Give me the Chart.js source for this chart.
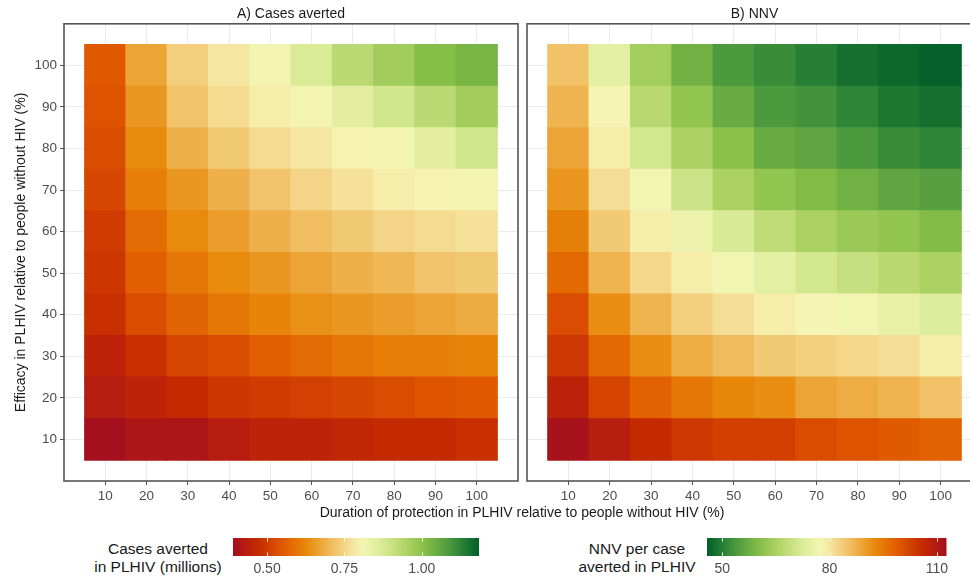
<!DOCTYPE html>
<html>
<head>
<meta charset="utf-8">
<script src="https://cdn.jsdelivr.net/npm/chart.js@4.4.1/dist/chart.umd.min.js"></script>
<style>
  html, body { margin: 0; padding: 0; background: #fff; overflow: hidden; }
  #wrap { position: relative; width: 970px; height: 580px; overflow: hidden; font-family: 'Liberation Sans', Arial, sans-serif; color: #1a1a1a; }
  canvas { position: absolute; }
  .txt { position: absolute; text-align: center; white-space: nowrap; }
</style>
</head>
<body>
<div id="wrap">
  <canvas id="chartA" width="521" height="510" style="left:0;top:0"></canvas>
  <canvas id="chartB" width="470" height="510" style="left:520px;top:0"></canvas>
  <div class="txt" style="left:222px;width:600px;top:504px;font-size:14px;line-height:17px">Duration of protection in PLHIV relative to people without HIV (%)</div>
  <div class="txt" style="left:58px;width:200px;top:540px;font-size:15.5px;line-height:18px">Cases averted<br>in PLHIV (millions)</div>
  <canvas id="barA" width="246" height="42" style="left:233px;top:538px"></canvas>
  <div class="txt" style="left:537px;width:200px;top:540px;font-size:15.5px;line-height:18px">NNV per case<br>averted in PLHIV</div>
  <canvas id="barB" width="246" height="42" style="left:707px;top:538px"></canvas>
</div>
<script>
// axes: duration of protection (x) and efficacy (y), both in %
const duration = [10, 20, 30, 40, 50, 60, 70, 80, 90, 100];
const efficacy = [10, 20, 30, 40, 50, 60, 70, 80, 90, 100];
const axisTicks = [10, 20, 30, 40, 50, 60, 70, 80, 90, 100];

// cases averted in PLHIV (millions), one row per efficacy (10 -> 100)
const casesAverted = [
  [0.39, 0.41, 0.41, 0.43, 0.45, 0.45, 0.46, 0.47, 0.47, 0.48],
  [0.43, 0.45, 0.47, 0.49, 0.50, 0.51, 0.52, 0.53, 0.54, 0.55],
  [0.45, 0.48, 0.52, 0.53, 0.56, 0.58, 0.60, 0.61, 0.61, 0.62],
  [0.48, 0.53, 0.57, 0.60, 0.62, 0.64, 0.65, 0.66, 0.67, 0.68],
  [0.49, 0.56, 0.60, 0.63, 0.65, 0.67, 0.69, 0.70, 0.72, 0.73],
  [0.50, 0.58, 0.63, 0.66, 0.69, 0.71, 0.73, 0.75, 0.76, 0.77],
  [0.52, 0.61, 0.65, 0.69, 0.72, 0.75, 0.77, 0.79, 0.80, 0.81],
  [0.53, 0.63, 0.69, 0.73, 0.76, 0.78, 0.80, 0.81, 0.85, 0.89],
  [0.54, 0.65, 0.72, 0.76, 0.79, 0.81, 0.85, 0.89, 0.93, 0.97],
  [0.55, 0.67, 0.74, 0.78, 0.81, 0.87, 0.93, 0.97, 1.01, 1.03]
];

// NNV per case averted in PLHIV, one row per efficacy (10 -> 100)
const nnv = [
  [112, 109, 106, 104, 103, 103, 101, 100, 99, 98],
  [108, 102, 98, 95, 93, 92, 89, 88, 87, 85],
  [104, 97, 92, 88, 86, 84, 83, 82, 81, 79],
  [101, 92, 87, 83, 81, 79, 78, 77, 75, 73],
  [97, 87, 82, 79, 77, 74, 71, 69, 67, 65],
  [94, 84, 79, 76, 72, 68, 65, 63, 62, 60],
  [91, 81, 77, 70, 65, 62, 60, 58, 56, 55],
  [89, 79, 71, 65, 61, 57, 56, 54, 52, 51],
  [87, 78, 67, 62, 57, 54, 53, 51, 49, 48],
  [85, 74, 64, 58, 54, 52, 50, 48, 47, 46]
];

// colour scale limits and legend ticks
const casesLimits = [0.39, 1.185];
const casesLegendTicks = [0.50, 0.75, 1.00];
const nnvLimits = [45.7, 112.7];
const nnvLegendTicks = [50, 80, 110];

// red -> yellow -> green ramp (t = 0 red, t = 1 green)
const palette = [
  [0.00, '#a50f1e'], [0.10, '#c42a02'], [0.20, '#e05800'], [0.30, '#e8890a'],
  [0.40, '#f0bc5e'], [0.46, '#f4d88c'], [0.52, '#f6f5b5'], [0.60, '#dcec9a'],
  [0.70, '#b2d468'], [0.78, '#86bf48'], [0.86, '#58a040'], [0.93, '#2a8236'],
  [1.00, '#005f28']
];

function hexRgb(h) {
  return [1, 3, 5].map(i => parseInt(h.slice(i, i + 2), 16));
}

function rampColor(t) {
  t = Math.max(0, Math.min(1, t));
  for (let i = 1; i < palette.length; i++) {
    if (t <= palette[i][0]) {
      const [t0, c0] = palette[i - 1];
      const [t1, c1] = palette[i];
      const f = (t - t0) / (t1 - t0);
      const a = hexRgb(c0), b = hexRgb(c1);
      const rgb = a.map((v, k) => Math.round(v + (b[k] - v) * f));
      return `rgb(${rgb[0]},${rgb[1]},${rgb[2]})`;
    }
  }
  return palette[palette.length - 1][1];
}

// low cases averted = red; low NNV = green
const casesColor = v => rampColor((v - casesLimits[0]) / (casesLimits[1] - casesLimits[0]));
const nnvColor = v => rampColor((nnvLimits[1] - v) / (nnvLimits[1] - nnvLimits[0]));

const fontFamily = "'Liberation Sans', Arial, sans-serif";
Chart.defaults.font.family = fontFamily;
Chart.defaults.color = '#4d4d4d';

const panelBorder = {
  id: 'panelBorder',
  afterDraw(chart) {
    const { ctx, chartArea: a } = chart;
    ctx.save();
    ctx.strokeStyle = '#555';
    ctx.lineWidth = 1.6;
    ctx.strokeRect(a.left, a.top, a.right - a.left, a.bottom - a.top);
    ctx.restore();
  }
};

function heatDatasets(matrix, colorFn) {
  return efficacy.map((e, i) => ({
    label: 'Efficacy ' + e,
    stack: 'cells',
    data: duration.map(d => ({ x: d, y: [e - 5, e + 5] })),
    backgroundColor: matrix[i].map(colorFn),
    borderWidth: 0,
    inflateAmount: 0.5,
    categoryPercentage: 1,
    barPercentage: 1
  }));
}

function heatmap(canvasId, title, matrix, colorFn, showY, yWidth, padRight) {
  return new Chart(document.getElementById(canvasId), {
    type: 'bar',
    data: { datasets: heatDatasets(matrix, colorFn) },
    plugins: [panelBorder],
    options: {
      responsive: false,
      animation: false,
      events: [],
      devicePixelRatio: 1,
      layout: { padding: { left: 0, right: padRight, top: 0, bottom: 0 } },
      plugins: {
        legend: { display: false },
        tooltip: { enabled: false },
        title: {
          display: true,
          text: title,
          fullSize: false,
          color: '#1a1a1a',
          font: { size: 14, weight: 'normal' },
          padding: { top: 6, bottom: 1 }
        }
      },
      scales: {
        x: {
          type: 'linear',
          stacked: true,
          offset: false,
          min: 0,
          max: 110,
          afterBuildTicks: axis => { axis.ticks = axisTicks.map(v => ({ value: v })); },
          afterFit: axis => { axis.height = 29; },
          grid: { offset: false, color: '#ebebeb', lineWidth: 1, tickColor: '#555', tickLength: 4 },
          border: { display: false },
          ticks: { padding: 3, font: { size: 13.5 }, color: '#4d4d4d', maxRotation: 0 }
        },
        y: {
          type: 'linear',
          stacked: false,
          min: 0,
          max: 110,
          afterBuildTicks: axis => { axis.ticks = axisTicks.map(v => ({ value: v })); },
          afterFit: axis => { axis.width = yWidth; },
          grid: { color: '#ebebeb', lineWidth: 1, tickColor: '#555', tickLength: 4, drawTicks: showY },
          border: { display: false },
          ticks: { display: showY, padding: 3, font: { size: 13.5 }, color: '#4d4d4d' },
          title: {
            display: showY,
            text: 'Efficacy in PLHIV relative to people without HIV (%)',
            color: '#1a1a1a',
            font: { size: 14 },
            padding: { top: 13, bottom: 0 }
          }
        }
      }
    }
  });
}

heatmap('chartA', 'A) Cases averted', casesAverted, casesColor, true, 64, 3);
heatmap('chartB', 'B) NNV', nnv, nnvColor, false, 7, 8);

// colour bars: gradient painted along the legend's own x scale
const gradientFill = {
  id: 'gradientFill',
  beforeDatasetsDraw(chart, args, opts) {
    const { ctx, chartArea: a } = chart;
    const sx = chart.scales.x;
    const grad = ctx.createLinearGradient(sx.getPixelForValue(sx.min), 0, sx.getPixelForValue(sx.max), 0);
    for (let i = 0; i <= 40; i++) {
      const p = i / 40;
      grad.addColorStop(p, opts.colorAt(sx.min + p * (sx.max - sx.min)));
    }
    ctx.save();
    ctx.fillStyle = grad;
    ctx.fillRect(a.left, a.top, a.right - a.left, a.bottom - a.top);
    ctx.strokeStyle = 'rgba(255,255,255,0.85)';
    ctx.lineWidth = 1;
    const tl = (a.bottom - a.top) / 5;
    sx.ticks.forEach(t => {
      const x = Math.round(sx.getPixelForValue(t.value)) + 0.5;
      ctx.beginPath();
      ctx.moveTo(x, a.top); ctx.lineTo(x, a.top + tl);
      ctx.moveTo(x, a.bottom); ctx.lineTo(x, a.bottom - tl);
      ctx.stroke();
    });
    ctx.restore();
  }
};

function colourBar(canvasId, limits, ticks, colorFn, fmt) {
  return new Chart(document.getElementById(canvasId), {
    type: 'scatter',
    data: { datasets: [{ data: [] }] },
    plugins: [gradientFill],
    options: {
      responsive: false,
      animation: false,
      events: [],
      devicePixelRatio: 1,
      layout: { padding: 0 },
      plugins: {
        legend: { display: false },
        tooltip: { enabled: false },
        gradientFill: { colorAt: colorFn }
      },
      scales: {
        x: {
          type: 'linear',
          min: limits[0],
          max: limits[1],
          afterBuildTicks: axis => { axis.ticks = ticks.map(v => ({ value: v })); },
          afterFit: axis => { axis.height = 24; },
          grid: { display: false, drawTicks: false },
          border: { display: false },
          ticks: { padding: 5, font: { size: 14 }, color: '#4d4d4d', maxRotation: 0, callback: fmt }
        },
        y: { display: false, min: 0, max: 1 }
      }
    }
  });
}

colourBar('barA', casesLimits, casesLegendTicks, casesColor, v => v.toFixed(2));
colourBar('barB', nnvLimits, nnvLegendTicks, nnvColor, v => String(v));
</script>
</body>
</html>
